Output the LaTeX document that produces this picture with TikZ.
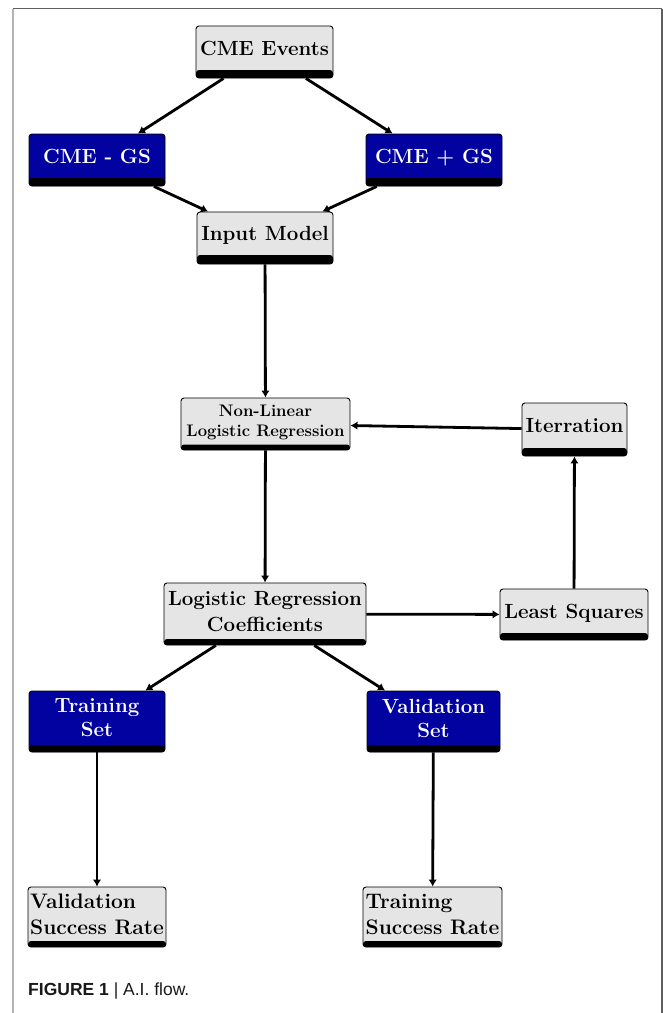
\documentclass[tikz,border=0pt]{standalone}
\usepackage{fontspec}
\newfontfamily\capfont{Liberation Sans}
\usetikzlibrary{arrows.meta}
\definecolor{boxgray}{RGB}{229,229,229}
\definecolor{boxblue}{RGB}{2,2,160}
\definecolor{frameL}{RGB}{180,180,180}
\definecolor{frameD}{RGB}{95,95,95}
\definecolor{captext}{RGB}{25,25,25}
\begin{document}
\begin{tikzpicture}[x=1pt,y=-1pt,
  box/.style={draw=black, line width=0.9pt, rounded corners=3pt, fill=boxgray, inner sep=1pt,
     font=\fontsize{20.5}{24}\selectfont\bfseries, align=center,
     path picture={\fill[black] ([yshift=#1]path picture bounding box.south west) rectangle (path picture bounding box.south east);},
     execute at end node={\rule[-#1]{0pt}{0pt}}},
  box/.default=8pt,
  bluebox/.style={box=#1, fill=boxblue, text=white},
  bluebox/.default=8pt,
  conn/.style={line width=2.8pt, -{Latex[length=7pt,width=8.5pt]}},
  framel/.style={line width=2pt, draw=frameL},
  framed/.style={line width=1.5pt, draw=frameD},
]
\useasboundingbox (0,0) rectangle (663,1013);
% frame
\coordinate (ftl) at (12.5,8.5);
\coordinate (fbl) at (12.5,1013);
\coordinate (ftr) at (661.8,8.5);
\coordinate (fbr) at (661.8,1013);
\draw[framel] (ftl) -- (fbl);
\draw[framed] (ftl) -- (ftr);
\draw[framed] (ftr) -- (fbr);

% nodes
\node[box, minimum width=137pt, minimum height=52pt] (ev) at (264.5,52) {CME Events};
\node[bluebox, minimum width=136pt, minimum height=52pt] (mgs) at (97,160) {CME - GS};
\node[bluebox, minimum width=136pt, minimum height=52pt] (pgs) at (434,160) {CME + GS};
\node[box=9pt, minimum width=136pt, minimum height=52pt] (im) at (265,238) {Input Model};
\node[box=5.5pt, minimum width=169pt, minimum height=52pt, font=\fontsize{16.7}{20}\selectfont\bfseries] (nl) at (265.5,424) {Non-Linear\\Logistic Regression};
\node[box=8pt, minimum width=105pt, minimum height=53pt] (it) at (574.5,429.5) {Iterration};
\node[box=6pt, minimum width=202pt, minimum height=62pt, font=\fontsize{20.5}{26}\selectfont\bfseries] (lrc) at (265,614) {Logistic Regression\\Coefficients};
\node[box=7pt, minimum width=148pt, minimum height=51pt] (ls) at (574,614.5) {Least Squares};
\node[bluebox=7pt, minimum width=136pt, minimum height=61pt] (ts) at (97,721.5) {Training\\Set};
\node[bluebox=7pt, minimum width=133pt, minimum height=61pt] (vs) at (433.5,721.5) {Validation\\Set};
\node[box=6pt, minimum width=138pt, minimum height=60pt, align=left, font=\fontsize{21}{26}\selectfont\bfseries] (vsr) at (97,917) {Validation\\Success Rate};
\node[box=6pt, minimum width=139pt, minimum height=60pt, align=left, font=\fontsize{21}{26}\selectfont\bfseries] (tsr) at (432.5,917) {Training\\Success Rate};

\node[anchor=base west, inner sep=0pt, text=captext, font=\capfont\fontsize{17.5}{20}\selectfont] (cap) at (28,995) {\textbf{FIGURE 1} | A.I. flow.};

% connectors
\draw[conn] (ev) -- (mgs);
\draw[conn] (ev) -- (pgs);
\draw[conn] (mgs) -- (im);
\draw[conn] (pgs) -- (im);
\draw[conn] (im) -- (nl);
\draw[conn] (it) -- (nl);
\draw[conn] (nl) -- (lrc);
\draw[conn] (lrc) -- (ls);
\draw[conn] (ls) -- (it);
\draw[conn] (lrc) -- (ts);
\draw[conn] (lrc) -- (vs);
\draw[conn] (ts) -- (vsr);
\draw[conn] (vs) -- (tsr);
\end{tikzpicture}
\end{document}
